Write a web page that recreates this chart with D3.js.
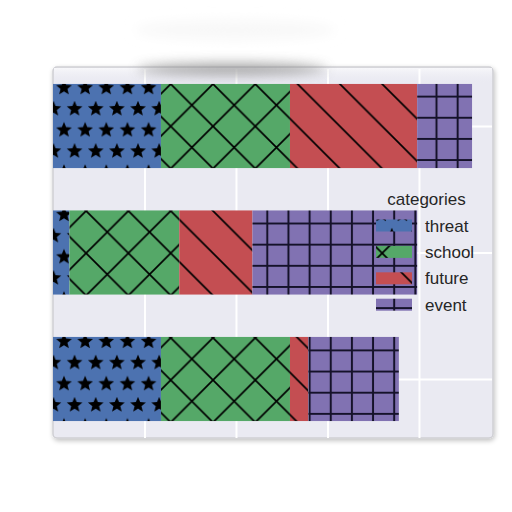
<!DOCTYPE html>
<html>
<head>
<meta charset="utf-8">
<script src="https://cdn.jsdelivr.net/npm/d3@7"></script>
<style>
  html, body { margin: 0; padding: 0; background: #ffffff; }
  svg { display: block; }
</style>
</head>
<body>
<svg id="chart" width="512" height="512"></svg>
<script>
// ---- data ----
const groups = ["1", "2", "3"];
const categories = ["threat", "school", "future", "event"];
const threat = [11.8, 1.8, 11.8];
const school = [14.1, 12.0, 14.1];
const future = [13.9, 8.0, 2.0];
const event = [6.0, 18.0, 9.9];
const xTicks = [10, 20, 30, 40];
const legendTitle = "categories";

const colors = ["#4C72B0", "#55A868", "#C44E52", "#8172B2"];
const hatchIds = ["h-star", "h-x", "h-back", "h-grid"];

const rows = groups.map((g, i) => ({
  group: g, threat: threat[i], school: school[i], future: future[i], event: event[i]
}));
const series = d3.stack().keys(categories)(rows);

const svg = d3.select("#chart");
const L = 53, R = 493, T = 67, B = 438;
const maxTotal = d3.max(rows, d => categories.reduce((s, k) => s + d[k], 0));
const x = d3.scaleLinear().domain([0, maxTotal * 1.05]).range([L, R]);
const barH = 0.665;
const y = d3.scaleLinear().domain([-0.4665, groups.length - 1 + 0.4665]).range([T, B]);

const defs = svg.append("defs");
defs.append("filter").attr("id", "blur").attr("x", "-50%").attr("y", "-200%").attr("width", "200%").attr("height", "500%")
  .append("feGaussianBlur").attr("stdDeviation", 6);
const sh = defs.append("filter").attr("id", "shadow").attr("x", "-5%").attr("y", "-5%").attr("width", "110%").attr("height", "115%");
sh.append("feGaussianBlur").attr("in", "SourceAlpha").attr("stdDeviation", 2.5);
sh.append("feOffset").attr("dx", 1).attr("dy", 2).attr("result", "ob");
sh.append("feComponentTransfer").append("feFuncA").attr("type", "linear").attr("slope", 0.25);
const mg = sh.append("feMerge");
mg.append("feMergeNode");
mg.append("feMergeNode").attr("in", "SourceGraphic");

const grad = defs.append("linearGradient").attr("id", "topglow").attr("x1", 0).attr("y1", 0).attr("x2", 0).attr("y2", 1);
grad.append("stop").attr("offset", 0).attr("stop-color", "#f7f7fa");
grad.append("stop").attr("offset", 1).attr("stop-color", "#eaeaf2").attr("stop-opacity", 0);

// hatch patterns (global, device-space like matplotlib)
const P = 42.3, p = P / 2;
function starPath(cx, cy, Ro, Ri) {
  let s = "";
  for (let k = 0; k < 10; k++) {
    const r = k % 2 === 0 ? Ro : Ri;
    const a = -Math.PI / 2 + k * Math.PI / 5;
    s += (k === 0 ? "M" : "L") + (cx + r * Math.cos(a)).toFixed(2) + "," + (cy + r * Math.sin(a)).toFixed(2);
  }
  return s + "Z";
}
function mkPattern(id, w, h, px, py, color) {
  const pat = defs.append("pattern").attr("id", id).attr("patternUnits", "userSpaceOnUse")
    .attr("width", w).attr("height", h).attr("x", px).attr("y", py);
  pat.append("rect").attr("width", w).attr("height", h).attr("fill", color);
  return pat;
}
{
  const Ro = 8.2, Ri = 3.6;
  const pat = mkPattern("h-star", p, P, 64 - p / 2, 87 - P / 4, colors[0]);
  const d = starPath(p / 2, P / 4 + 0.8, Ro, Ri) + starPath(0, 3 * P / 4 + 0.8, Ro, Ri) + starPath(p, 3 * P / 4 + 0.8, Ro, Ri)
    + starPath(p / 2, P / 4 + 0.8 - P, Ro, Ri) + starPath(p / 2, P / 4 + 0.8 + P, Ro, Ri);
  pat.append("path").attr("d", d).attr("fill", "#000");
}
{
  const pat = mkPattern("h-x", P, P, 213, 84, colors[1]);
  pat.append("path").attr("d", `M-3,-3L${P + 3},${P + 3}M${P + 3},-3L-3,${P + 3}`)
    .attr("stroke", "#000").attr("stroke-width", 1.7).attr("fill", "none");
}
{
  const pat = mkPattern("h-back", P, P, 213, 84, colors[2]);
  pat.append("path").attr("d", `M-3,-3L${P + 3},${P + 3}M${-P / 2 - 3},${P / 2 - 3}L${P / 2 + 3},${1.5 * P + 3}M${P / 2 - 3},${-P / 2 - 3}L${1.5 * P + 3},${P / 2 + 3}`)
    .attr("stroke", "#000").attr("stroke-width", 1.7).attr("fill", "none");
}
{
  const pat = mkPattern("h-grid", p, p, 13.5 - p / 2, 12 - p / 2, colors[3]);
  pat.append("path").attr("d", `M${p / 2},0V${p}M0,${p / 2}H${p}`)
    .attr("stroke", "#15122a").attr("stroke-width", 2).attr("fill", "none");
}

// very faint blurred smudge at top (as in reference)
svg.append("ellipse").attr("cx", 235).attr("cy", 30).attr("rx", 100).attr("ry", 10)
  .attr("fill", "#f8f8f8").attr("filter", "url(#blur)");

// axes background with frame
svg.append("rect").attr("x", L).attr("y", T).attr("width", R - L).attr("height", B - T)
  .attr("rx", 4).attr("fill", "#eaeaf2").attr("stroke", "#cfcfd4").attr("stroke-width", 1.5)
  .attr("filter", "url(#shadow)");
svg.append("rect").attr("x", L + 1).attr("y", T + 1).attr("width", R - L - 2).attr("height", 16)
  .attr("fill", "url(#topglow)");

// grid
const gGrid = svg.append("g");
gGrid.append("g").attr("transform", `translate(0,${B})`)
  .call(d3.axisBottom(x).tickValues(xTicks).tickSize(-(B - T - 2)).tickFormat(""))
  .call(g => g.select(".domain").remove())
  .call(g => g.selectAll("line").attr("stroke", "#ffffff").attr("stroke-width", 2));
gGrid.append("g").attr("transform", `translate(${L},0)`)
  .call(d3.axisLeft(y).tickValues(d3.range(groups.length)).tickSize(-(R - L - 1)).tickFormat(""))
  .call(g => g.select(".domain").remove())
  .call(g => g.selectAll("line").attr("stroke", "#ffffff").attr("stroke-width", 2));

// top blurred shadow over the frame edge
svg.append("ellipse").attr("cx", 232).attr("cy", 69).attr("rx", 95).attr("ry", 6)
  .attr("fill", "#8a8a8a").attr("opacity", 0.75).attr("filter", "url(#blur)");

// bars
const layer = svg.append("g").selectAll("g").data(series).join("g")
  .attr("fill", (d, i) => `url(#${hatchIds[i]})`);
layer.selectAll("rect").data(d => d).join("rect")
  .attr("x", d => x(d[0]))
  .attr("width", d => x(d[1]) - x(d[0]))
  .attr("y", (d, i) => y(i - barH / 2))
  .attr("height", y(barH) - y(0));

// legend
const lg = svg.append("g").attr("font-family", "'Liberation Sans', Arial, sans-serif").attr("fill", "#262626");
lg.append("text").attr("x", 426.5).attr("y", 205).attr("text-anchor", "middle")
  .attr("font-size", 17).text(legendTitle);
categories.forEach((c, i) => {
  const yy = 219.5 + i * 26.4;
  lg.append("rect").attr("x", 376).attr("y", yy).attr("width", 36).attr("height", 12)
    .attr("fill", `url(#${hatchIds[i]})`);
  lg.append("text").attr("x", 425).attr("y", yy + 12).attr("font-size", 17).text(c);
});
</script>
</body>
</html>
